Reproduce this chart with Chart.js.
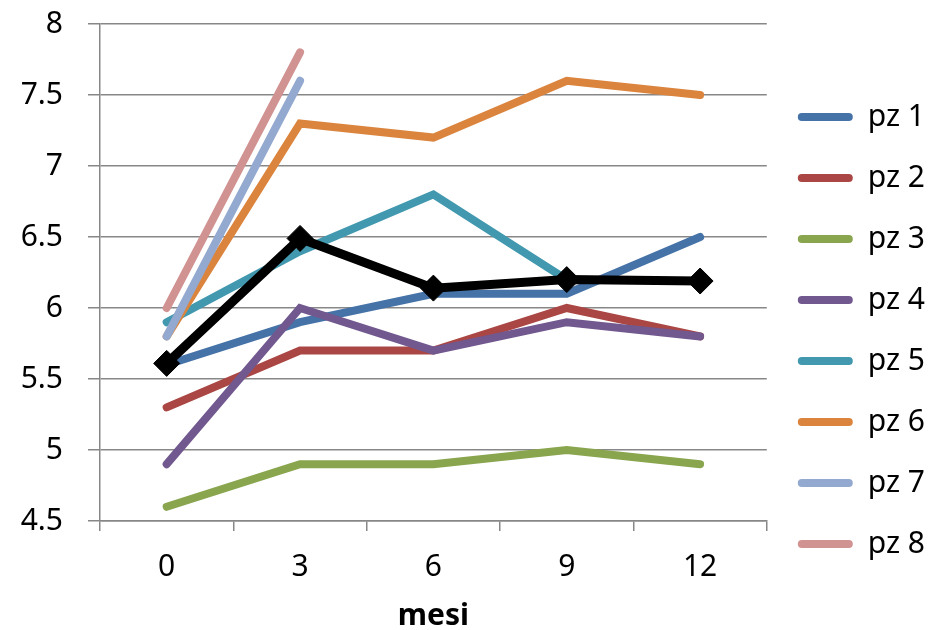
<!DOCTYPE html>
<html>
<head>
<meta charset="utf-8">
<script src="https://cdn.jsdelivr.net/npm/chart.js@4.4.0/dist/chart.umd.min.js"></script>
<style>
  html, body { margin: 0; padding: 0; background: #fff; }
  #wrap { width: 940px; height: 630px; }
</style>
</head>
<body>
<div id="wrap"><canvas id="chart" width="940" height="630"></canvas></div>
<script>
// --- Data ---
const months = ['0', '3', '6', '9', '12'];
const pz1 = [5.6, 5.9, 6.1, 6.1, 6.5];
const pz2 = [5.3, 5.7, 5.7, 6.0, 5.8];
const pz3 = [4.6, 4.9, 4.9, 5.0, 4.9];
const pz4 = [4.9, 6.0, 5.7, 5.9, 5.8];
const pz5 = [5.9, 6.4, 6.8, 6.2, null];
const pz6 = [5.8, 7.3, 7.2, 7.6, 7.5];
const pz7 = [5.8, 7.6, null, null, null];
const pz8 = [6.0, 7.8, null, null, null];
const media = [5.61, 6.49, 6.14, 6.2, 6.19];

const seriesNames = ['pz 1', 'pz 2', 'pz 3', 'pz 4', 'pz 5', 'pz 6', 'pz 7', 'pz 8'];
const seriesData = [pz1, pz2, pz3, pz4, pz5, pz6, pz7, pz8];
const colors = ['#4572A7', '#AA4643', '#89A54E', '#71588F', '#4198AF', '#DB843D', '#93A9CF', '#D19392'];

const FONT = 'Noto Sans';
Chart.defaults.font.family = FONT;
Chart.defaults.color = '#000';

// pz lines: later series sit on top, black line above everything
const datasets = seriesData.map((d, i) => ({
  label: seriesNames[i],
  data: d,
  borderColor: colors[i],
  backgroundColor: colors[i],
  borderWidth: 8,
  borderCapStyle: 'round',
  pointRadius: 0,
  tension: 0,
  order: 10 - i
}));

datasets.push({
  label: 'media',
  data: media,
  borderColor: '#000',
  backgroundColor: '#000',
  borderWidth: 9,
  pointStyle: 'rectRot',
  pointRadius: 13,
  pointBackgroundColor: '#000',
  pointBorderColor: '#000',
  pointBorderWidth: 1,
  order: 0
});

new Chart(document.getElementById('chart'), {
  type: 'line',
  data: { labels: months, datasets },
  options: {
    responsive: false,
    animation: false,
    layout: { padding: { left: 20, right: 5, top: 24, bottom: 0 } },
    plugins: {
      tooltip: { enabled: false },
      legend: {
        position: 'right',
        // empty title only nudges the legend column down a bit
        title: { display: true, text: '', font: { size: 6 }, padding: 0 },
        labels: {
          boxWidth: 55,
          boxHeight: 8,
          padding: 31,
          useBorderRadius: true,
          borderRadius: 4,
          font: { size: 30 },
          generateLabels(chart) {
            const items = Chart.defaults.plugins.legend.labels.generateLabels(chart);
            items.forEach(it => { it.lineWidth = 0; it.fillStyle = colors[it.datasetIndex]; });
            return items
              .filter(it => it.datasetIndex < seriesNames.length)
              .sort((a, b) => a.datasetIndex - b.datasetIndex);
          }
        }
      }
    },
    scales: {
      x: {
        offset: true,
        grid: {
          offset: true,
          drawOnChartArea: false,
          drawTicks: true,
          tickLength: 10,
          color: '#878787',
          lineWidth: 1.5
        },
        border: { color: '#878787', width: 1.5 },
        ticks: { font: { size: 30 }, padding: 18 },
        title: {
          display: true,
          text: 'mesi',
          font: { size: 30, weight: 'bold', lineHeight: 0.9 },
          padding: { top: 0, bottom: 0 }
        }
      },
      y: {
        min: 4.5,
        max: 8,
        afterFit(scale) {
          scale.width = 80;
          scale.paddingTop = 0;
          scale.paddingBottom = 0;
        },
        ticks: {
          stepSize: 0.5,
          font: { size: 30 },
          padding: 25,
          callback: v => String(v)
        },
        grid: { color: '#878787', lineWidth: 1.5, tickLength: 12 },
        border: { color: '#878787', width: 1.5 }
      }
    }
  }
});
</script>
</body>
</html>
